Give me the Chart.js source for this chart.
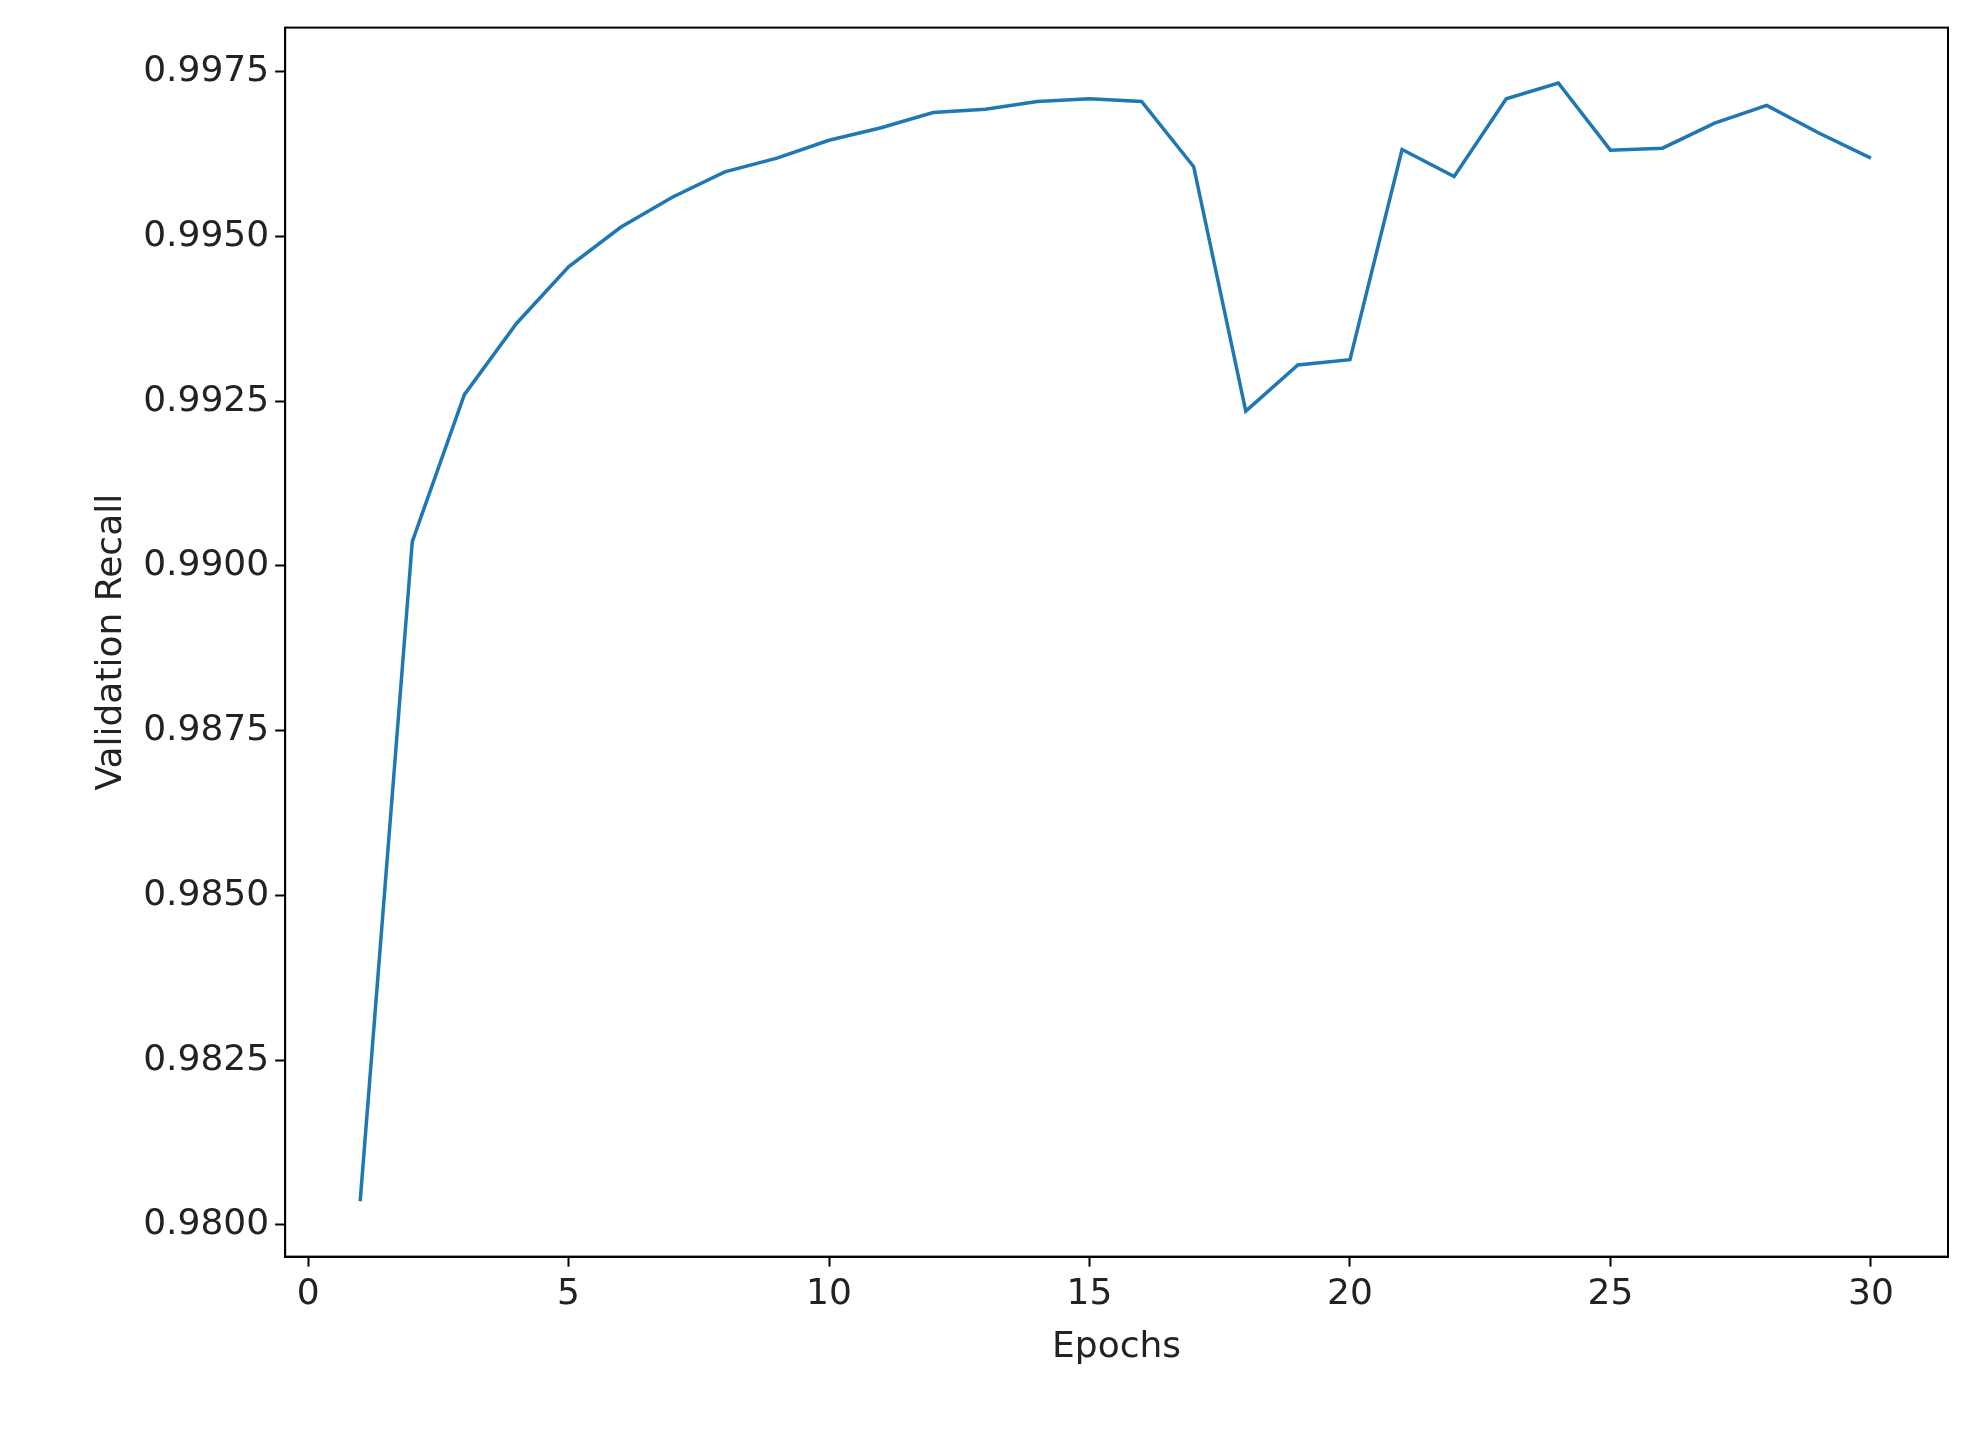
<!DOCTYPE html><html><head><script src="https://cdn.jsdelivr.net/npm/chart.js@4"></script>
<style>html,body{margin:0;background:#fff}#w{width:1966px;height:1429px}</style></head><body><div id="w"><canvas id="c"></canvas></div>
<script>
const epochs=[1,2,3,4,5,6,7,8,9,10,11,12,13,14,15,16,17,18,19,20,21,22,23,24,25,26,27,28,29,30];
const recall=[0.98036,0.99037,0.99260,0.99368,0.99454,0.99514,0.99560,0.99598,0.99619,0.99646,0.99665,0.99688,0.99693,0.99705,0.99709,0.99705,0.99606,0.99235,0.99305,0.99313,0.99632,0.99591,0.99709,0.99733,0.99631,0.99634,0.99672,0.99699,0.99657,0.99619];
const xTicks=[0,5,10,15,20,25,30];
const yTicks=[0.98,0.9825,0.985,0.9875,0.99,0.9925,0.995,0.9975];
const box={id:'box',afterDraw(ch){const a=ch.chartArea,c=ch.ctx;c.save();c.strokeStyle='#000';c.lineWidth=2;c.strokeRect(a.left,a.top,a.right-a.left,a.bottom-a.top);c.restore();}};
const f={family:'DejaVu Sans',size:36};
const g={display:true,drawOnChartArea:false,drawTicks:true,tickLength:10,tickColor:'#000',tickWidth:2};
new Chart(document.getElementById('c'),{type:'line',
data:{datasets:[{data:epochs.map((e,i)=>({x:e,y:recall[i]})),borderColor:'#1f77b4',borderWidth:3.5,pointRadius:0,tension:0}]},
options:{responsive:true,maintainAspectRatio:false,animation:false,layout:{padding:{top:27,right:18,left:86,bottom:56}},
plugins:{legend:{display:false},tooltip:{enabled:false}},
scales:{x:{type:'linear',min:-0.44,max:31.48,afterBuildTicks:s=>{s.ticks=xTicks.map(v=>({value:v}));},
grid:g,border:{color:'#000',width:2},
ticks:{color:'#222',font:f,padding:6},title:{display:true,text:'Epochs',color:'#222',font:f}},
y:{min:0.97952,max:0.99817,afterBuildTicks:s=>{s.ticks=yTicks.map(v=>({value:v}));},
grid:g,border:{color:'#000',width:2},
ticks:{color:'#222',font:f,padding:6,callback:v=>v.toFixed(4)},title:{display:true,text:'Validation Recall',color:'#222',font:f}}}},
plugins:[box]});
</script></body></html>
